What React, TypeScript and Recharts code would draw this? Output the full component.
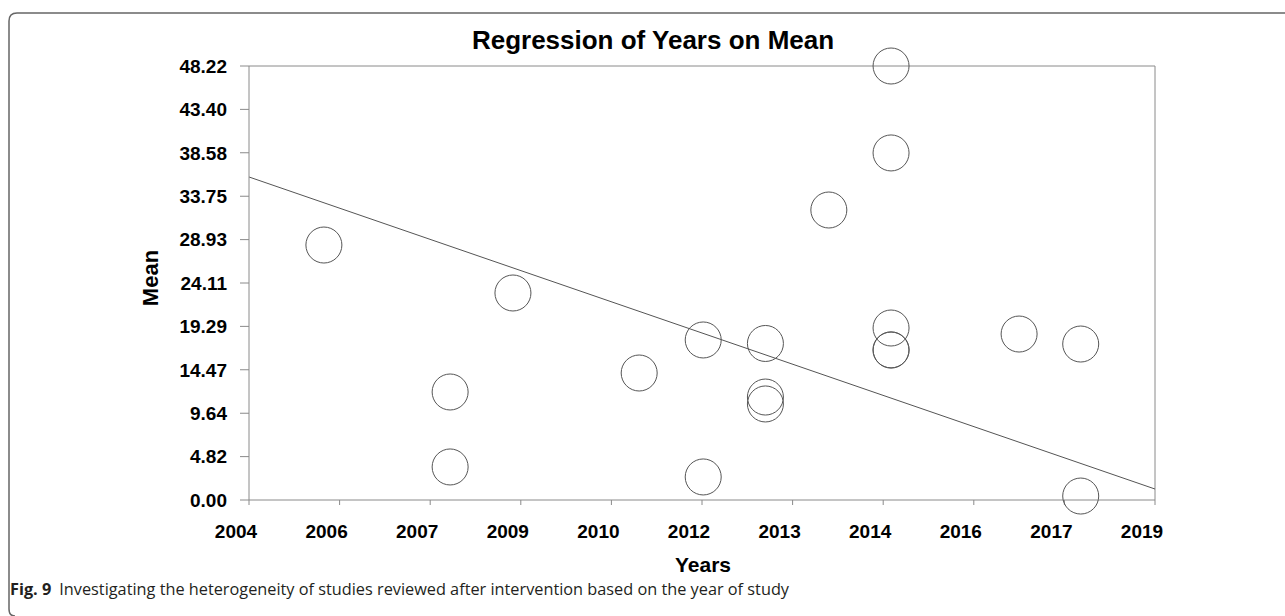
import React from 'react';
import {
  ScatterChart,
  Scatter,
  XAxis,
  YAxis,
  ReferenceLine,
} from 'recharts';

// study year and mean value for every study
const years = [
  2005.24, 2007.33, 2007.33, 2008.37, 2010.46, 2011.52, 2011.52, 2012.55, 2012.55,
  2012.55, 2013.6, 2014.63, 2014.63, 2014.63, 2014.63, 2014.63, 2016.75, 2017.77, 2017.77,
];
const means = [
  28.33, 12.0, 3.67, 23.0, 14.11, 17.78, 2.56, 17.39, 11.44, 10.67, 32.22, 48.22, 38.56,
  19.11, 16.67, 16.67, 18.44, 17.33, 0.44,
];

const xTicks = [2004, 2005.5, 2007, 2008.5, 2010, 2011.5, 2013, 2014.5, 2016, 2017.5, 2019];
const xTickLabels = ['2004', '2006', '2007', '2009', '2010', '2012', '2013', '2014', '2016', '2017', '2019'];
const yTicks = [0, 4.82, 9.64, 14.47, 19.29, 24.11, 28.93, 33.75, 38.58, 43.4, 48.22];

// fitted regression line, start and end
const regressionX = [2004, 2019];
const regressionY = [35.89, 1.22];

const points = years.map((year, i) => ({ year, mean: means[i] }));

const axisFont = 'Liberation Sans, Arial, sans-serif';
const axisGray = '#8a8a8a';

const RingShape = (props: any) => {
  const { cx, cy } = props;
  return <circle cx={cx} cy={cy} r={18} fill="none" stroke="#555" strokeWidth={1} />;
};

export default function App() {
  return (
    <div
      style={{
        position: 'absolute',
        left: 0,
        top: 0,
        width: 1285,
        height: 616,
        background: '#fff',
        overflow: 'hidden',
      }}
    >
      <ScatterChart
        width={1285}
        height={616}
        margin={{ top: 66, right: 130, bottom: 76, left: 159 }}
      >
        <XAxis
          type="number"
          dataKey="year"
          domain={[2004, 2019]}
          ticks={xTicks}
          tickFormatter={(v: number) => xTickLabels[xTicks.indexOf(v)] ?? ''}
          height={40}
          stroke={axisGray}
          tickSize={5}
          tickMargin={20}
          tick={{ fontSize: 19, fontWeight: 700, fill: '#000', fontFamily: axisFont, dx: -13 }}
        />
        <YAxis
          type="number"
          dataKey="mean"
          domain={[0, 48.22]}
          ticks={yTicks}
          tickFormatter={(v: number) => v.toFixed(2)}
          width={90}
          stroke={axisGray}
          tickSize={9}
          tickMargin={13}
          tick={{ fontSize: 19, fontWeight: 700, fill: '#000', fontFamily: axisFont }}
        />
        <ReferenceLine y={48.22} stroke={axisGray} />
        <ReferenceLine x={2019} stroke={axisGray} />
        <ReferenceLine
          segment={[
            { x: regressionX[0], y: regressionY[0] },
            { x: regressionX[1], y: regressionY[1] },
          ]}
          stroke="#555"
          strokeWidth={1}
        />
        <Scatter data={points} shape={RingShape} isAnimationActive={false} />
      </ScatterChart>

      <svg
        width={1285}
        height={616}
        style={{ position: 'absolute', left: 0, top: 0, pointerEvents: 'none' }}
      >
        <path
          d="M 15 616 Q 9 616 9 609 L 9 21 Q 9 13 17 13 L 1285 13"
          fill="none"
          stroke="#666"
          strokeWidth={1.5}
        />
        <text
          x={653}
          y={49}
          textAnchor="middle"
          fontFamily={axisFont}
          fontWeight={700}
          fontSize={26}
          fill="#000"
        >
          Regression of Years on Mean
        </text>
        <text
          x={0}
          y={0}
          transform="translate(158 278) rotate(-90)"
          textAnchor="middle"
          fontFamily={axisFont}
          fontWeight={700}
          fontSize={22}
          fill="#000"
        >
          Mean
        </text>
        <text
          x={703}
          y={572}
          textAnchor="middle"
          fontFamily={axisFont}
          fontWeight={700}
          fontSize={21}
          fill="#000"
        >
          Years
        </text>
        <text x={10} y={595} fontFamily="'Open Sans', 'Noto Sans', sans-serif" fontSize={16.3} fill="#231f20">
          <tspan fontWeight={700}>Fig. 9</tspan>
          <tspan dx={8}>Investigating the heterogeneity of studies reviewed after intervention based on the year of study</tspan>
        </text>
      </svg>
    </div>
  );
}
